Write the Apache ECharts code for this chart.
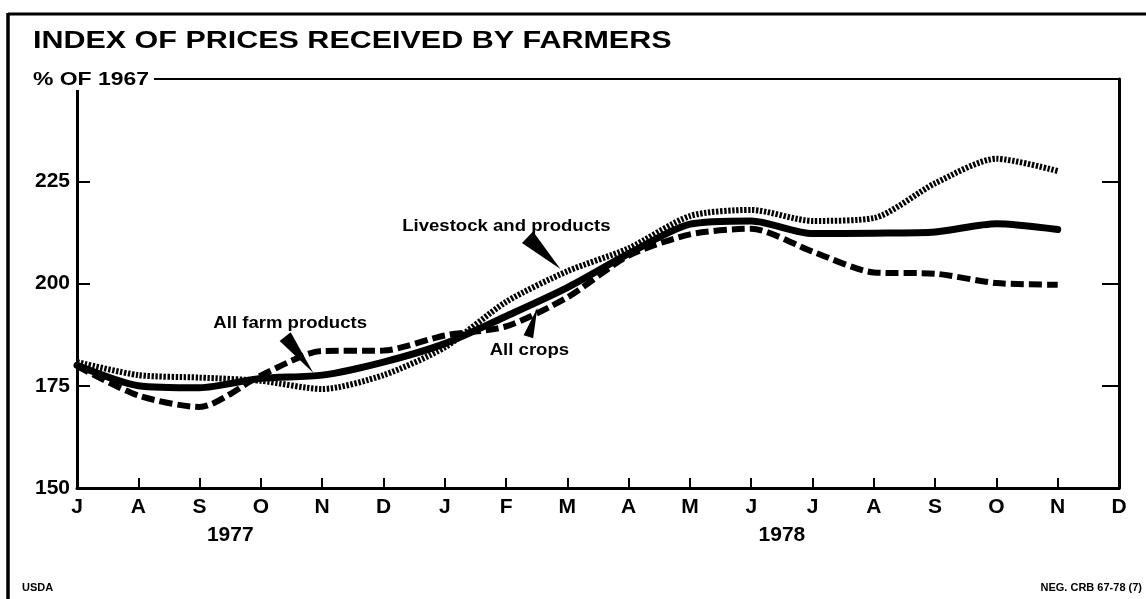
<!DOCTYPE html>
<html>
<head>
<meta charset="utf-8">
<script src="https://cdn.jsdelivr.net/npm/echarts@6/dist/echarts.min.js"></script>
<style>
  html, body { margin: 0; padding: 0; background: #fff; }
  #chart { width: 1146px; height: 599px; }
</style>
</head>
<body>
<div id="chart"></div>
<script>
// ---- Data ----
const months = ['J','A','S','O','N','D','J','F','M','A','M','J','J','A','S','O','N','D']; // Jul 1977 .. Dec 1978
const yTickLabels = [150, 175, 200, 225];
const allFarmProducts = [180, 175, 174.5, 176.8, 177.6, 180.8, 185.3, 192, 199, 207.3, 214.5, 215.3, 212.2, 212.3, 212.6, 214.6, 213.2];
const livestockAndProducts = [180.8, 177.6, 177, 176.2, 174.2, 177.6, 184.4, 195.5, 203, 208.6, 216.5, 218, 215.3, 216, 224.5, 230.5, 227.5];
const allCrops = [179.8, 172.6, 169.8, 177.5, 183.5, 183.6, 187.3, 189.5, 196.6, 206.8, 212, 213.4, 207.8, 202.7, 202.4, 200.1, 199.7];
const years = [{ label: '1977', at: 2.5 }, { label: '1978', at: 11.5 }];

const toPairs = arr => arr.map((v, i) => [i, v]);

const chart = echarts.init(document.getElementById('chart'), null, { renderer: 'canvas' });
const NUM_FONT = '"Liberation Sans", Arial, sans-serif';

chart.setOption({
  animation: false,
  backgroundColor: '#fff',
  grid: { left: 77, right: 27, top: 79, bottom: 111, containLabel: false },
  xAxis: [{
    type: 'value', min: 0, max: months.length - 1, interval: 1,
    axisLine: { show: true, lineStyle: { color: '#000', width: 3 } },
    axisTick: { show: true, inside: true, length: 10, lineStyle: { color: '#000', width: 2 } },
    axisLabel: {
      show: true, margin: 9, color: '#000', fontFamily: NUM_FONT, fontWeight: 'bold', fontSize: 21,
      showMinLabel: true, showMaxLabel: true,
      formatter: v => months[v] || ''
    },
    splitLine: { show: false }
  }, {
    type: 'value', position: 'top', min: 0, max: months.length - 1,
    axisLine: { show: true, onZero: false, lineStyle: { color: '#000', width: 2 } },
    axisTick: { show: false }, axisLabel: { show: false }, splitLine: { show: false }
  }],
  yAxis: [{
    type: 'value', min: 150, max: 250, interval: 25,
    axisLine: { show: true, lineStyle: { color: '#000', width: 3 } },
    axisTick: { show: true, inside: true, length: 13, lineStyle: { color: '#000', width: 2 } },
    axisLabel: {
      margin: 7, color: '#000', fontFamily: NUM_FONT, fontWeight: 'bold', fontSize: 21,
      formatter: v => (yTickLabels.indexOf(v) >= 0 ? String(v) : '')
    },
    splitLine: { show: false }
  }, {
    type: 'value', position: 'right', min: 150, max: 250, interval: 25,
    axisLine: { show: true, onZero: false, lineStyle: { color: '#000', width: 3 } },
    axisTick: { show: true, inside: true, length: 17, lineStyle: { color: '#000', width: 2 } },
    axisLabel: { show: false }, splitLine: { show: false }
  }],
  series: [
    {
      name: 'All farm products', type: 'line', data: toPairs(allFarmProducts),
      smooth: 0.25, symbol: 'none', z: 3,
      lineStyle: { color: '#000', width: 7, cap: 'round', join: 'round' }
    },
    {
      name: 'Livestock and products', type: 'line', data: toPairs(livestockAndProducts),
      smooth: 0.25, symbol: 'none', z: 2,
      lineStyle: { color: '#000', width: 6, type: [2.4, 1.6] }
    },
    {
      name: 'All crops', type: 'line', data: toPairs(allCrops),
      smooth: 0.25, symbol: 'none', z: 2,
      lineStyle: { color: '#000', width: 6, type: [13, 5] }
    }
  ]
});

// ---- Annotations (data coordinates) ----
const annotations = [
  { text: 'Livestock and products', label: [7.005, 214.0], base: [7.35, 211.3], half: 8, tip: [7.887, 203.55] },
  { text: 'All farm products', label: [3.478, 190.2], base: [3.396, 187.0], half: 7, tip: [3.854, 178.2] },
  { text: 'All crops', label: [7.381, 183.6], base: [7.364, 187.0], half: 5, tip: [7.511, 194.06] }
];

function px(p) { return chart.convertToPixel({ gridIndex: 0 }, p); }

const graphics = [];
// outer frame (top and left)
graphics.push({ type: 'line', z: 50, shape: { x1: 8, y1: 14, x2: 1146, y2: 14 }, style: { stroke: '#000', lineWidth: 3 } });
graphics.push({ type: 'line', z: 50, shape: { x1: 8, y1: 13, x2: 8, y2: 599 }, style: { stroke: '#000', lineWidth: 3.5 } });
// title
graphics.push({
  type: 'text', z: 60, x: 33, y: 41, scaleX: 1.27,
  style: { text: 'INDEX OF PRICES RECEIVED BY FARMERS', fill: '#000', font: 'bold 24px ' + NUM_FONT, textVerticalAlign: 'middle', textAlign: 'left' }
});
// unit label with white backing to interrupt the axes
graphics.push({ type: 'rect', z: 55, shape: { x: 30, y: 68, width: 124, height: 20 }, style: { fill: '#fff' } });
graphics.push({ type: 'rect', z: 55, shape: { x: 70, y: 68, width: 14, height: 22 }, style: { fill: '#fff' } });
graphics.push({
  type: 'text', z: 60, x: 33, y: 79.5, scaleX: 1.24,
  style: { text: '% OF 1967', fill: '#000', font: 'bold 18.5px ' + NUM_FONT, textVerticalAlign: 'middle', textAlign: 'left' }
});
// year labels
years.forEach(y => {
  const p = px([y.at, 150]);
  graphics.push({
    type: 'text', z: 60, x: p[0], y: p[1] + 47,
    style: { text: y.label, fill: '#000', font: 'bold 21px ' + NUM_FONT, textAlign: 'center', textVerticalAlign: 'middle' }
  });
});
// annotations
annotations.forEach(a => {
  const l = px(a.label), b = px(a.base), t = px(a.tip);
  const dx = t[0] - b[0], dy = t[1] - b[1];
  const len = Math.hypot(dx, dy) || 1;
  const nx = -dy / len * a.half, ny = dx / len * a.half;
  graphics.push({
    type: 'polygon', z: 40,
    shape: { points: [[b[0] + nx, b[1] + ny], [b[0] - nx, b[1] - ny], t] },
    style: { fill: '#000' }
  });
  graphics.push({
    type: 'text', z: 60, x: l[0], y: l[1], scaleX: 1.16,
    style: { text: a.text, fill: '#000', font: 'bold 16px ' + NUM_FONT, textAlign: 'center', textVerticalAlign: 'middle' }
  });
});
// footer
graphics.push({ type: 'text', z: 60, x: 22, y: 588, scaleX: 1.1, style: { text: 'USDA', fill: '#000', font: 'bold 10px ' + NUM_FONT, textVerticalAlign: 'middle' } });
graphics.push({ type: 'text', z: 60, x: 1142, y: 588, scaleX: 1.1, style: { text: 'NEG. CRB 67-78 (7)', fill: '#000', font: 'bold 10px ' + NUM_FONT, textAlign: 'right', textVerticalAlign: 'middle' } });

chart.setOption({ graphic: graphics });
</script>
</body>
</html>
